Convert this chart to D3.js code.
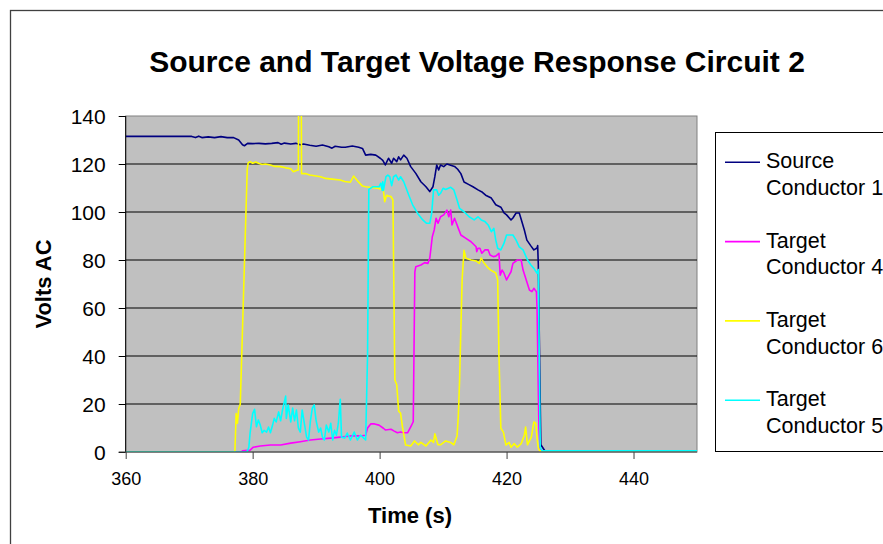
<!DOCTYPE html>
<meta charset="utf-8">
<style>
body { margin: 0; background: #fff; }
svg { display: block; }
text { font-family: "Liberation Sans", Arial, sans-serif; fill: #000; }
</style>
<script src="https://d3js.org/d3.v7.min.js"></script>
<body>
<script>
// series: [time (s), volts]
var source1 = [[360,131.5],[370.4,131.5],[371,131],[371.5,131.6],[372,131],[373,131.3],[374,131],[375,131.4],[376,131],[377,131],
  [377.8,130],[378.4,128],[378.7,127.6],[379.2,128.6],[380,128.5],[381,128.6],[382,128.4],[383,128.6],[384,128.9],[384.5,128.2],
  [385,128.7],[386,128.3],[386.8,128.6],[387.5,128],[388,128.3],[389,127.8],[390,127.4],[391,127.9],[392,127.2],[392.5,126.6],
  [393,127.4],[394,127],[394.6,127],[395.7,127.5],[396.7,127],[397.3,126.5],[397.8,123.7],[398.6,124],[399.4,123.7],[400.1,122.4],
  [400.5,121.5],[400.9,119.6],[401.4,122.4],[401.9,120.3],[402.2,122.4],[402.7,121],[403,123],[403.3,121.7],[403.8,123.7],[404.3,122.4],
  [404.9,118.9],[405.7,116.1],[406.5,112.6],[407.3,110.5],[407.9,108.5],[408.4,110.5],[408.7,114.7],[409,119.6],[409.3,117.5],[409.6,119.6],
  [410.1,118.9],[410.6,120],[411.2,119.5],[411.8,119],[412.3,117.8],[412.8,116],[413.3,112.5],[414,111.5],[414.7,110.5],[415.5,109.2],
  [416.2,108.2],[416.7,107],[417.6,105.8],[418.3,103],[419.1,102],[419.6,99.6],[420,98.8],[420.7,96.7],[421,97.5],[421.5,99.6],
  [422,99.6],[422.3,97],[422.8,92.5],[423.2,88.3],[423.8,86],[424.3,84.2],[424.8,85],[424.9,86],[425,78],[425.2,40],
  [425.4,3],[426,0.6],[450,0.4]];

var target4 = [[360,0],[378.2,0],[378.4,0.5],[379.6,0.8],[380.1,2],[381.2,2.5],[382.8,2.9],[384.4,2.9],[386,3.7],[387.5,4.3],
  [389.1,5],[390.7,5.4],[392.3,5.8],[393.8,6.2],[395.4,6.7],[397,6.7],[397.8,7],[398.1,10],[398.6,11.7],[399.2,11.7],
  [399.9,11.2],[400.6,9.9],[400.9,9.2],[401.8,9.5],[402.3,8.7],[402.8,8],[403.3,8.3],[403.8,8],[404.4,8],[404.9,10.5],
  [405.3,12.6],[405.55,75],[405.7,77.2],[406.5,77.9],[407.1,78.9],[407.6,78.6],[407.9,80.7],[408.3,89.7],[408.6,92.5],[408.9,97.4],
  [409.2,95.3],[409.6,98],[410.1,98.8],[410.6,100.8],[410.9,98],[411.2,100.8],[411.4,94.6],[411.8,97.4],[412.3,93.9],[412.8,90.4],
  [413.6,89],[414.4,87.6],[415.2,85.5],[415.3,83.5],[415.5,84.9],[415.8,84.9],[416.1,82.8],[416.6,84.2],[417.1,84.2],[417.4,82.1],
  [417.9,81.4],[418.3,81.6],[418.8,82.8],[419,73.7],[419.3,75.8],[419.6,74.5],[420,71.7],[420.4,73.7],[420.7,75.1],[421,78.6],
  [421.7,80],[422.3,80],[422.6,75.8],[423.1,71.7],[423.6,67.5],[424,66.8],[424.3,68.2],[424.7,66.8],[424.8,60],[425.1,10],
  [425.3,0.5],[450,0.5]];

var target6 = [[360,0],[377.2,0],[377.4,16],[377.6,12],[377.8,18],[378.05,20],[378.5,60],[379,105],[379.15,118],[379.3,120.5],
  [379.6,121],[380,120.3],[380.5,120.8],[381,120.2],[381.5,119.8],[382,120],[382.8,119.6],[383.5,119],[384.4,118.9],[385.2,118.4],
  [386,118],[386.4,116.8],[387,117.4],[387.2,117.5],[387.25,160],[387.65,160],[387.7,116],[388.3,116],[389,115.4],[390,115],
  [390.7,114.7],[391.5,114],[392.5,113.7],[393.8,113.3],[394.5,112.7],[395.4,112.4],[395.9,115],[396.5,113],[397.3,110.8],[397.8,110.5],
  [398.5,110.3],[399.9,109.8],[400.6,109],[400.8,104.3],[401.1,107],[401.4,106.7],[401.8,106.4],[402.1,105],[402.4,30],[402.7,28],
  [403,17],[403.3,16.2],[403.6,10.5],[404.1,2.9],[404.9,2.5],[405.5,4.6],[406.1,3],[406.5,4],[407.3,2.5],[408.1,5],
  [408.5,4],[408.7,7.6],[409.2,3],[409.6,3],[410.4,4.6],[411.2,4],[411.7,3],[412.2,6.7],[412.4,15],[412.6,30],
  [412.8,51],[413,72],[413.3,84],[413.6,80.7],[414.4,80],[415.2,79.6],[415.7,78.6],[416,80.8],[416.4,79],[417.1,76.7],
  [417.5,75.8],[418.3,74.6],[418.6,71.7],[418.8,40],[419.1,9.9],[419.5,8.3],[419.9,2.9],[420.4,4],[420.7,2],[421.2,3.5],
  [421.7,2],[422.3,3.5],[422.8,7],[423,10.4],[423.3,3],[423.9,6.2],[424.3,12.5],[424.6,12],[424.8,6],[425,1.7],
  [425.2,0.5],[450,0.5]];

var target5 = [[360,0],[379.1,0],[379.4,2],[379.6,8],[380,16],[380.3,17.8],[380.6,10.5],[380.9,13.3],[381.2,11.2],[381.5,8],
  [381.8,9],[382.2,8.3],[382.5,10.4],[382.8,8],[383.1,10.8],[383.4,14],[383.7,12.5],[384.1,16.7],[384.4,13],[384.7,17.5],
  [385,21],[385.2,23.3],[385.3,14],[385.6,19.6],[386,12.5],[386.3,18.3],[386.6,13],[386.9,17.5],[387.2,10],[387.5,8.3],
  [387.8,17.5],[388.2,11],[388.5,6.2],[388.8,5],[389.1,13],[389.4,18.3],[389.7,19.6],[390,13],[390.4,8.3],[390.7,10],
  [391,6.2],[391.3,5],[391.6,11.2],[392,8.3],[392.3,12],[392.6,5],[392.9,9],[393.2,7],[393.5,12],[393.8,22],
  [394,6.2],[394.5,5.8],[394.9,7.9],[395.4,5],[396,8.3],[396.5,5],[397,7],[397.5,5.8],[397.8,5],[398.1,40],
  [398.3,109.4],[398.9,110.5],[399.9,110.5],[400.2,112],[400.4,109],[400.5,112.6],[400.6,109],[401,114.7],[401.3,115.4],[401.6,114.7],
  [401.9,111],[402.2,114.7],[402.6,115.4],[403,113.3],[403.3,114.7],[403.8,112.6],[404.6,107],[405.2,103],[406,99.4],[406.8,96.7],
  [407.4,95.3],[407.9,95.3],[408.2,99.4],[408.5,109.2],[409,109.2],[409.3,107],[409.6,107.8],[410,109.9],[410.4,109.4],[411.2,110.3],
  [411.7,109.2],[412.2,105],[412.6,101.5],[413.3,100.1],[414.1,98],[414.9,96.7],[415.5,98],[416,96.7],[416.6,96],[417.1,94.6],
  [417.6,91.8],[418,93.2],[418.3,88.3],[418.6,84.9],[419.1,84.2],[419.6,87],[420,90.4],[421,90.4],[421.5,88.3],[422,85.5],
  [422.6,84.2],[423.3,80],[423.8,78],[424.3,76.5],[424.8,74.5],[425,76],[425.15,40],[425.3,2],[425.6,0.5],[450,0.5]];

var seriesNames = [["Source", "Conductor 1"], ["Target", "Conductor 4"], ["Target", "Conductor 6"], ["Target", "Conductor 5"]];
var seriesColors = ["#000080", "#ff00ff", "#ffff00", "#00ffff"];
var xTicks = [360, 380, 400, 420, 440];
var yTicks = [0, 20, 40, 60, 80, 100, 120, 140];

var W = 883, H = 544;
var plotL = 125.7, plotR = 697, plotT = 116, plotB = 452;

var svg = d3.select("body").append("svg")
    .attr("width", W)
    .attr("height", H);

// outer chart border
svg.append("rect")
    .attr("x", 10.5).attr("y", 10.5)
    .attr("width", 900).attr("height", 600)
    .attr("fill", "#fff")
    .attr("stroke", "#404040")
    .attr("stroke-width", 1.3);

var x = d3.scaleLinear().domain([360, 450]).range([plotL, plotR]);
var y = d3.scaleLinear().domain([0, 140]).range([plotB, plotT]);

// plot area
svg.append("rect")
    .attr("x", plotL).attr("y", plotT)
    .attr("width", plotR - plotL).attr("height", plotB - plotT)
    .attr("fill", "#c0c0c0")
    .attr("stroke", "#808080");

svg.selectAll(".grid")
    .data(yTicks.filter(d => d > 0 && d < 140))
    .enter().append("line")
    .attr("x1", plotL).attr("x2", plotR)
    .attr("y1", d => y(d)).attr("y2", d => y(d))
    .attr("stroke", "#000")
    .attr("stroke-width", 1);

svg.append("clipPath").attr("id", "clip")
  .append("rect")
    .attr("x", plotL).attr("y", plotT)
    .attr("width", plotR - plotL).attr("height", plotB - plotT);

var line = d3.line()
    .x(d => x(d[0]))
    .y(d => y(d[1]));

var allSeries = [source1, target4, target6, target5];

svg.append("g").attr("clip-path", "url(#clip)")
  .selectAll("path")
  .data(allSeries)
  .enter().append("path")
    .attr("d", line)
    .attr("fill", "none")
    .attr("stroke", (d, i) => seriesColors[i])
    .attr("stroke-width", 1.6)
    .attr("stroke-linejoin", "round");

// axes
var yAxis = svg.append("g")
    .attr("transform", "translate(" + plotL + ",0)")
    .call(d3.axisLeft(y).tickValues(yTicks).tickSize(7).tickPadding(13));
var xAxis = svg.append("g")
    .attr("transform", "translate(0," + plotB + ")")
    .call(d3.axisBottom(x).tickValues(xTicks).tickSize(7).tickPadding(13));

yAxis.select(".domain").attr("stroke", "#000").attr("d", "M0," + plotT + "V" + plotB);
xAxis.select(".domain").attr("stroke", "#404040").attr("d", "M" + (plotL - 7) + ",0H" + plotR);
yAxis.selectAll(".tick line").attr("stroke", "#000");
xAxis.selectAll(".tick line").attr("stroke", "#404040");
yAxis.selectAll(".tick text")
    .attr("font-size", 21)
    .attr("font-family", "Liberation Sans, Arial, sans-serif")
    .attr("dy", "0.36em");
xAxis.selectAll(".tick text")
    .attr("font-size", 18)
    .attr("font-family", "Liberation Sans, Arial, sans-serif")
    .attr("dy", "0.71em");

// titles
svg.append("text")
    .attr("x", 477).attr("y", 72)
    .attr("text-anchor", "middle")
    .attr("font-size", 30)
    .attr("font-weight", "bold")
    .text("Source and Target Voltage Response Circuit 2");

svg.append("text")
    .attr("transform", "translate(51," + ((plotT + plotB) / 2) + ") rotate(-90)")
    .attr("text-anchor", "middle")
    .attr("font-size", 22)
    .attr("font-weight", "bold")
    .text("Volts AC");

svg.append("text")
    .attr("x", 410).attr("y", 523)
    .attr("text-anchor", "middle")
    .attr("font-size", 22)
    .attr("font-weight", "bold")
    .text("Time (s)");

// legend
svg.append("rect")
    .attr("x", 715.5).attr("y", 132.5)
    .attr("width", 220).attr("height", 319)
    .attr("fill", "#fff")
    .attr("stroke", "#000");

var leg = svg.selectAll(".leg")
    .data(seriesNames)
    .enter().append("g")
    .attr("transform", (d, i) => "translate(0," + (162.3 + i * 79.3) + ")");
leg.append("line")
    .attr("x1", 725).attr("x2", 760)
    .attr("stroke", (d, i) => seriesColors[i])
    .attr("stroke-width", 1.6);
leg.append("text")
    .attr("x", 766).attr("y", 6)
    .attr("font-size", 21.5)
    .text(d => d[0]);
leg.append("text")
    .attr("x", 766).attr("y", 32.7)
    .attr("font-size", 21.5)
    .text(d => d[1]);
</script>
